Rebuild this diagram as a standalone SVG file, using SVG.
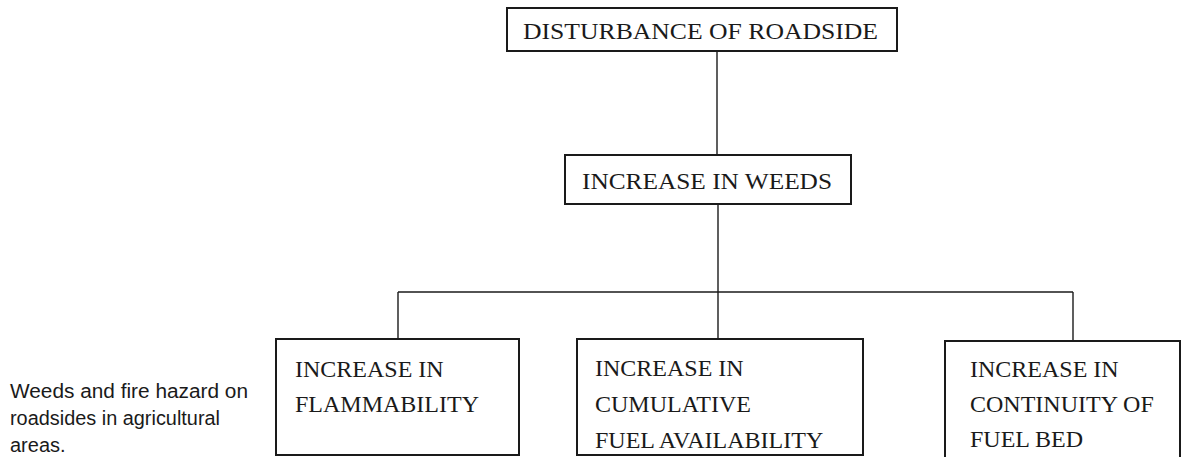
<svg xmlns="http://www.w3.org/2000/svg" width="1183" height="457" viewBox="0 0 1183 457">
<style>
.box{fill:#fff;stroke:#1a1a1a;stroke-width:2}
.lbl{font-family:"Liberation Serif","Times New Roman",serif;font-size:24px;fill:#1a1a1a}
.cap{font-family:"Liberation Sans",Arial,sans-serif;font-size:20px;fill:#1a1a1a}
.con{stroke:#1a1a1a;stroke-width:1.4;fill:none}
</style>
<rect width="1183" height="457" fill="#fff"/>
<g id="connectors">
<line class="con" x1="717" y1="51" x2="717" y2="155"/>
<line class="con" x1="718" y1="204" x2="718" y2="292"/>
<line class="con" x1="398" y1="292" x2="1073" y2="292"/>
<line class="con" x1="398" y1="292" x2="398" y2="339"/>
<line class="con" x1="718" y1="292" x2="718" y2="339"/>
<line class="con" x1="1073" y1="292" x2="1073" y2="341"/>
</g>
<g id="n-disturbance">
<rect class="box" x="507" y="8" width="390" height="43"/>
<text class="lbl" x="523" y="39" textLength="355" lengthAdjust="spacingAndGlyphs">DISTURBANCE OF ROADSIDE</text>
</g>
<g id="n-weeds">
<rect class="box" x="565" y="155" width="286" height="49"/>
<text class="lbl" x="582" y="189" font-size="25" textLength="250" lengthAdjust="spacingAndGlyphs">INCREASE IN WEEDS</text>
</g>
<g id="n-flammability">
<rect class="box" x="276" y="339" width="243" height="116"/>
<text class="lbl" x="295" y="377">INCREASE IN</text>
<text class="lbl" x="295" y="412">FLAMMABILITY</text>
</g>
<g id="n-fuel">
<rect class="box" x="577" y="339" width="286" height="116"/>
<text class="lbl" x="595" y="376">INCREASE IN</text>
<text class="lbl" x="595" y="412">CUMULATIVE</text>
<text class="lbl" x="595" y="448">FUEL AVAILABILITY</text>
</g>
<g id="n-continuity">
<rect class="box" x="945" y="341" width="235" height="118"/>
<text class="lbl" x="970" y="377">INCREASE IN</text>
<text class="lbl" x="970" y="412">CONTINUITY OF</text>
<text class="lbl" x="970" y="447">FUEL BED</text>
</g>
<g id="caption">
<text class="cap" x="10" y="398" textLength="238" lengthAdjust="spacingAndGlyphs">Weeds and fire hazard on</text>
<text class="cap" x="10" y="425" textLength="210" lengthAdjust="spacingAndGlyphs">roadsides in agricultural</text>
<text class="cap" x="10" y="452">areas.</text>
</g>
</svg>
